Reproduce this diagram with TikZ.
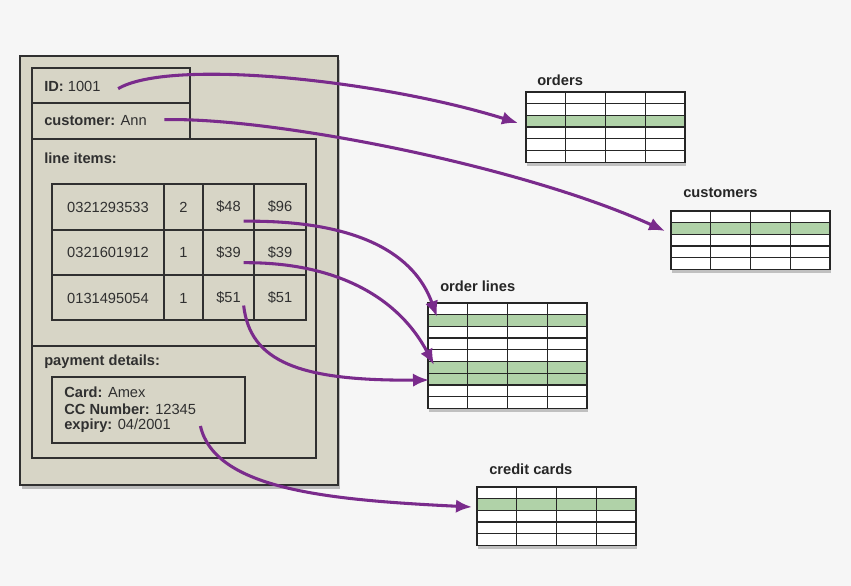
\documentclass[tikz,border=0pt]{standalone}
\usepackage{fontspec}
\setmainfont{Liberation Sans}
\usepackage{tikz}
\usetikzlibrary{arrows.meta,shadows}

\definecolor{pagebg}{RGB}{246,246,246}
\definecolor{framefill}{RGB}{215,213,198}
\definecolor{rowgreen}{RGB}{176,210,168}
\definecolor{linkpurple}{RGB}{122,43,140}
\definecolor{inkgrey}{RGB}{48,48,48}

\tikzset{
  frame/.style={draw=inkgrey, line width=1pt},
  grid line/.style={draw=black!85, line width=1pt, line cap=rect},
  table shadow/.style={drop shadow={shadow xshift=1pt, shadow yshift=-2.5pt, opacity=.45}},
  txt/.style={anchor=west, inner sep=0pt, text=inkgrey, font=\fontsize{11}{13}\selectfont},
  cell/.style={inner sep=0pt, text=inkgrey, font=\fontsize{11}{13}\selectfont},
  title/.style={anchor=west, inner sep=0pt, text=black!85, font=\bfseries\fontsize{11}{13}\selectfont},
  link/.style={draw=linkpurple, line width=2.3pt, -{Latex[length=12pt,width=10pt]}},
}

% db table: left, top, rows, green rows
\newcommand{\dbtable}[4]{%
  \path[fill=white, table shadow] (#1,#2) rectangle ++(159,{#3*11.7});
  \foreach \g in {#4}
    \fill[rowgreen] (#1,{#2+(\g-1)*11.7}) rectangle ++(159,11.7);
  \foreach \r in {0,...,#3}
    \draw[grid line] (#1,{#2+\r*11.7}) -- ++(159,0);
  \foreach \c in {0,...,4}
    \draw[grid line] ({#1+\c*39.75},#2) -- ++(0,{#3*11.7});
}

\begin{document}
\begin{tikzpicture}[x=0.75pt, y=-0.75pt]
\useasboundingbox[fill=pagebg] (0,0) rectangle (851,586);

% the order document
\path[fill=framefill, draw=inkgrey, line width=1pt,
  drop shadow={shadow xshift=1.5pt, shadow yshift=-3pt, opacity=.5}]
  (20,56) rectangle (338,485);
\draw[frame] (32,68) rectangle (190,103);
\draw[frame] (32,103) rectangle (190,139);
\draw[frame] (32,139) rectangle (316,346);
\draw[frame] (32,346) rectangle (316,458);

\node[txt] (id) at (44,86) {\textbf{ID:} 1001};
\node[txt] (cust) at (44,121) {\textbf{customer:} Ann};
\node[txt] (items) at (44,158) {\textbf{line items:}};

\draw[frame] (52,184) rectangle (306,320);
\foreach \y in {230,275}
  \draw[frame] (52,\y) -- (306,\y);
\foreach \x in {164,203,254}
  \draw[frame] (\x,184) -- (\x,320);
\foreach \isbn/\qty/\price/\total [count=\i] in
  {0321293533/2/48/96, 0321601912/1/39/39, 0131495054/1/51/51}{
  \node[cell] (isbn\i) at (108,{161.5+\i*45.5}) {\isbn};
  \node[cell] (qty\i) at (183.5,{161.5+\i*45.5}) {\qty};
  \node[cell] (price\i) at (228.5,{161.5+\i*45.5}) {\$\price};
  \node[cell] (total\i) at (280,{161.5+\i*45.5}) {\$\total};
}

\node[txt] (pay) at (44,362) {\textbf{payment details:}};
\draw[frame] (52,377) rectangle (245,443);
\node[txt] (card) at (64,392) {\textbf{Card:} Amex};
\node[txt] (ccnum) at (64,409) {\textbf{CC Number:} 12345};
\node[txt] (expiry) at (64,426) {\textbf{expiry:} 04/2001};

% the tables
\dbtable{526}{92}{6}{3}
\dbtable{671}{211}{5}{2}
\dbtable{428}{303}{9}{2,6,7}
\dbtable{477}{487}{5}{2}

\node[title] (orders) at (537,80) {orders};
\node[title] (customers) at (683,193) {customers};
\node[title] (orderlines) at (440,286) {order lines};
\node[title] (creditcards) at (489,469) {credit cards};

\coordinate (ordersrow) at (518,123);
\coordinate (custrow) at (665,231);
\coordinate (lineA) at (437,317);
\coordinate (lineB) at (434,365);
\coordinate (lineC) at (429,380);
\coordinate (cardrow) at (472,507);

% links
\draw[link] ([shift={(13pt,-2pt)}]id.east) .. controls (170,58) and (380,80) .. (ordersrow);
\draw[link] ([shift={(13pt,1pt)}]cust.east) .. controls (270,117) and (520,165) .. (custrow);
\draw[link] ([shift={(2pt,-6pt)}]price1.south east) .. controls (360,220) and (415,255) .. (lineA);
\draw[link] ([shift={(2pt,-3pt)}]price2.south east) .. controls (340,262) and (400,300) .. (lineB);
\draw[link] ([shift={(2pt,-1pt)}]price3.south east) .. controls (250,362) and (300,381) .. (lineC);
\draw[link] ([shift={(22pt,0pt)}]expiry.east) .. controls (215,490) and (330,500) .. (cardrow);
\end{tikzpicture}
\end{document}
